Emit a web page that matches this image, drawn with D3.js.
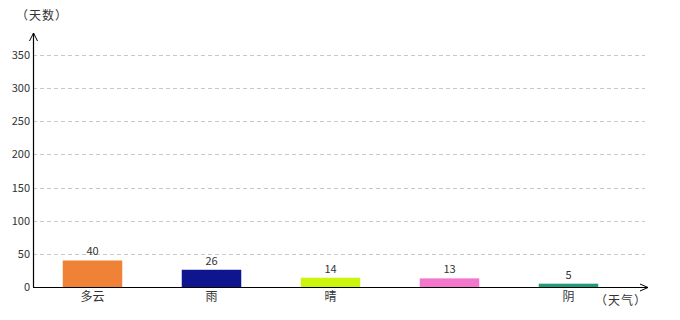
<!DOCTYPE html>
<html>
<head>
<meta charset="utf-8">
<script src="https://cdn.jsdelivr.net/npm/d3@7"></script>
<style>
  body { margin: 0; background: #fff; }
  text { font-family: "Noto Sans CJK SC", "DejaVu Sans", sans-serif; }
  .title { font-feature-settings: "fwid"; letter-spacing: 1px; }
</style>
</head>
<body>
<div id="chart"></div>
<script>
var categories = ["多云", "雨", "晴", "", "阴"];
var values = [40, 26, 14, 13, 5];
var colors = ["#ef8237", "#0f148f", "#ccf50e", "#f276cb", "#1f9c7b"];
var yTicks = [0, 50, 100, 150, 200, 250, 300, 350];

var svgWidth = 680, svgHeight = 320;
var x0 = 33, y0 = 287;

var svg = d3.select("#chart").append("svg")
  .attr("width", svgWidth)
  .attr("height", svgHeight);

var xScale = d3.scaleBand()
  .domain(d3.range(categories.length))
  .range([x0, x0 + 119 * categories.length])
  .paddingInner(0.5)
  .paddingOuter(0.25);

var yScale = d3.scaleLinear()
  .domain([0, 350])
  .range([y0, 55]);

// grid lines
svg.append("g").selectAll("line")
  .data(yTicks.filter(d => d > 0))
  .enter().append("line")
  .attr("x1", x0).attr("x2", 645)
  .attr("y1", d => Math.round(yScale(d)) + 0.5)
  .attr("y2", d => Math.round(yScale(d)) + 0.5)
  .attr("stroke", "#c8c8c8")
  .attr("stroke-dasharray", "4,3");

// y tick labels
svg.append("g").selectAll("text")
  .data(yTicks)
  .enter().append("text")
  .attr("x", x0 - 3)
  .attr("y", d => yScale(d) + 4)
  .attr("text-anchor", "end")
  .attr("font-size", 11)
  .attr("fill", "#333")
  .text(d => d);

// bars
svg.append("g").selectAll("rect")
  .data(values)
  .enter().append("rect")
  .attr("x", (d, i) => xScale(i))
  .attr("width", xScale.bandwidth())
  .attr("y", d => yScale(d))
  .attr("height", d => y0 - yScale(d))
  .attr("fill", (d, i) => colors[i]);

// value labels
svg.append("g").selectAll("text")
  .data(values)
  .enter().append("text")
  .attr("x", (d, i) => xScale(i) + xScale.bandwidth() / 2)
  .attr("y", d => yScale(d) - 5)
  .attr("text-anchor", "middle")
  .attr("font-size", 11)
  .attr("fill", "#333")
  .text(d => d);

// category labels
svg.append("g").selectAll("text")
  .data(categories)
  .enter().append("text")
  .attr("x", (d, i) => xScale(i) + xScale.bandwidth() / 2)
  .attr("y", y0 + 14)
  .attr("text-anchor", "middle")
  .attr("font-size", 12)
  .attr("fill", "#333")
  .text(d => d);

// axes with arrows
svg.append("line")
  .attr("x1", x0 + 0.5).attr("x2", x0 + 0.5)
  .attr("y1", y0).attr("y2", 33)
  .attr("stroke", "#000").attr("stroke-width", 1.2);
svg.append("path")
  .attr("d", `M${x0 - 3.5},${41} L${x0 + 0.5},${33} L${x0 + 4.5},${41}`)
  .attr("fill", "none").attr("stroke", "#000");

svg.append("line")
  .attr("x1", x0).attr("x2", 648)
  .attr("y1", y0 + 0.5).attr("y2", y0 + 0.5)
  .attr("stroke", "#000").attr("stroke-width", 1.2);
svg.append("path")
  .attr("d", `M640,${y0 - 3} L648,${y0 + 0.5} L640,${y0 + 4}`)
  .attr("fill", "none").attr("stroke", "#000");

// axis titles
svg.append("text")
  .attr("class", "title")
  .attr("x", 16).attr("y", 20)
  .attr("font-size", 12).attr("fill", "#333")
  .text("（天数）");

svg.append("text")
  .attr("class", "title")
  .attr("x", 595).attr("y", 305)
  .attr("font-size", 12).attr("fill", "#333")
  .text("（天气）");
</script>
</body>
</html>
